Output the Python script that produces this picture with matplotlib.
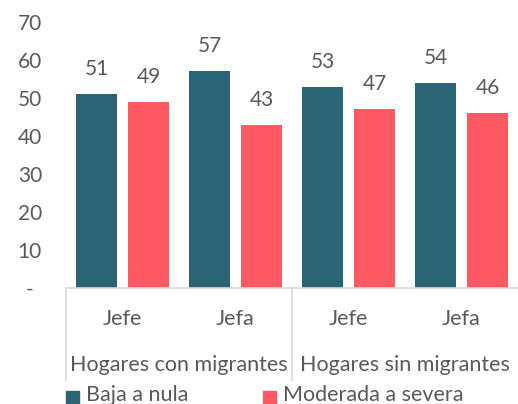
import matplotlib
matplotlib.use("Agg")
import matplotlib.pyplot as plt
from matplotlib.lines import Line2D
from matplotlib.patches import Rectangle
import numpy as np

plt.rcParams['font.family'] = ['Lato', 'DejaVu Sans']

categories = ["Jefe", "Jefa", "Jefe", "Jefa"]
groups = ["Hogares con migrantes", "Hogares sin migrantes"]
series_names = ["Baja a nula", "Moderada a severa"]
baja = [51, 57, 53, 54]
moderada = [49, 43, 47, 46]
yticks = [0, 10, 20, 30, 40, 50, 60, 70]
yticklabels = ["-", "10", "20", "30", "40", "50", "60", "70"]

teal = "#2B6575"
pink = "#FF5964"
gray = "#595959"
linec = "#D9D9D9"
fs = 15.5
fsn = 15

fig = plt.figure(figsize=(5.18, 4.04), dpi=100)
ax = fig.add_axes([66/518, 1-288/404, 1-66/518, (288-22)/404])

x = np.arange(len(categories))
w = 0.363
off = 0.23
b1 = ax.bar(x - off, baja, w, color=teal)
b2 = ax.bar(x + off, moderada, w, color=pink)
for bars, vals in ((b1, baja), (b2, moderada)):
    for r, v in zip(bars, vals):
        ax.text(r.get_x() + r.get_width()/2, v + 6.6, f"{v}", ha="center", va="center",
                fontsize=fsn, color=gray)

ax.set_xlim(-0.5, 3.5)
ax.set_ylim(0, 70)
ax.set_yticks(yticks)
ax.set_yticklabels(yticklabels, fontsize=fsn, color=gray)
ax.tick_params(axis='y', length=0, pad=26)
for lab in ax.get_yticklabels():
    lab.set_horizontalalignment('center')
ax.set_xticks([])
for s in ("top", "right", "left"):
    ax.spines[s].set_visible(False)
ax.spines["bottom"].set_color(linec)
ax.spines["bottom"].set_linewidth(1.2)

# category labels
to_ax = lambda py: (288 - py) / (288 - 22)
for i, c in enumerate(categories):
    ax.text(i, to_ax(319), c, transform=ax.get_xaxis_transform(), ha="center", va="center",
            fontsize=fs, color=gray)
for gi, g in enumerate(groups):
    ax.text(0.5 + 2*gi, to_ax(365), g, transform=ax.get_xaxis_transform(), ha="center",
            va="center", fontsize=fs, color=gray)
for xv in (-0.5, 1.5):
    ax.add_line(Line2D([xv, xv], [0, to_ax(380)], transform=ax.get_xaxis_transform(),
                       color=linec, lw=1.2, clip_on=False))

# legend
for (px, name, col) in ((66, series_names[0], teal), (263, series_names[1], pink)):
    fig.add_artist(Rectangle((px/518, 1-404/404), 13/518, 13/404, transform=fig.transFigure,
                             color=col, clip_on=False))
    fig.text((px + 20)/518, 1-395/404, name, ha="left", va="center", fontsize=fs, color=gray)

fig.savefig("out.png", dpi=100)
